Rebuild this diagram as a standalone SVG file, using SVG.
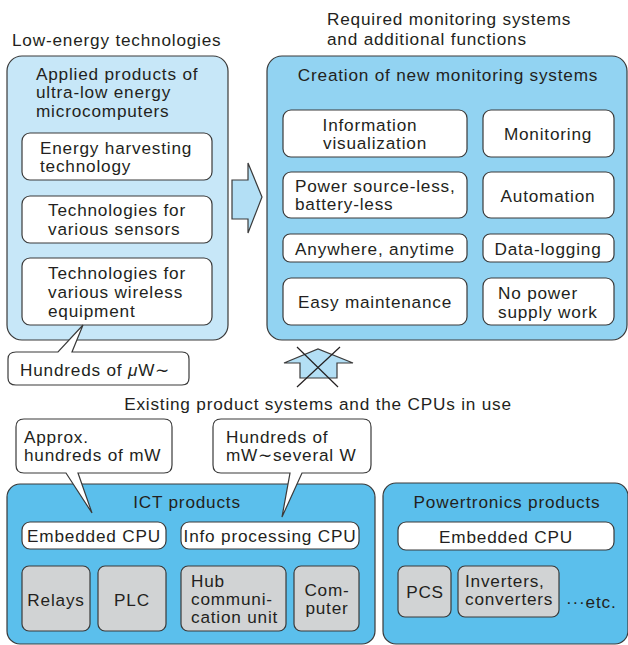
<svg xmlns="http://www.w3.org/2000/svg" width="628" height="645" viewBox="0 0 628 645">
  <style>
    text { font-family: "Liberation Sans", Arial, sans-serif; font-size: 17.2px; letter-spacing: 0.8px; fill: #231f20; }
    .c { text-anchor: middle; }
    .panel { stroke: #3a3a3a; stroke-width: 1.2; }
    .box { fill: #ffffff; stroke: #3a3a3a; stroke-width: 1.2; }
    .gray { fill: #d1d3d4; stroke: #3a3a3a; stroke-width: 1.2; }
    .arrow { fill: #b3dff5; stroke: #3a3a3a; stroke-width: 1.2; stroke-linejoin: miter; }
    .cross { stroke: #231f20; stroke-width: 1.2; fill: none; }
  </style>

  <!-- headings -->
  <g id="headings">
    <text x="12" y="46">Low-energy technologies</text>
    <text x="327" y="25">Required monitoring systems</text>
    <text x="327" y="45">and additional functions</text>
    <text class="c" x="318" y="410">Existing product systems and the CPUs in use</text>
  </g>

  <!-- low-energy microcomputer panel -->
  <g id="low-energy-panel">
    <rect class="panel" x="7" y="56" width="221" height="284" rx="15" fill="#c7e7f8"/>
    <text x="36" y="80">Applied products of</text>
    <text x="36" y="98">ultra-low energy</text>
    <text x="36" y="117">microcomputers</text>
  </g>
  <g id="energy-harvesting">
    <rect class="box" x="22" y="133" width="190" height="47" rx="8"/>
    <text x="40" y="154">Energy harvesting</text>
    <text x="40" y="172">technology</text>
  </g>
  <g id="sensors">
    <rect class="box" x="22" y="196" width="190" height="47" rx="8"/>
    <text x="48" y="216">Technologies for</text>
    <text x="48" y="235">various sensors</text>
  </g>
  <g id="wireless">
    <rect class="box" x="22" y="258" width="190" height="67" rx="8"/>
    <text x="48" y="279">Technologies for</text>
    <text x="48" y="298">various wireless</text>
    <text x="48" y="317">equipment</text>
  </g>
  <g id="callout-uw">
    <path class="box" d="M16,352 H58 L83,325 L72,352 H182 Q189,352 189,359 V378 Q189,385 182,385 H16 Q8,385 8,378 V359 Q8,352 16,352 Z"/>
    <text x="20" y="376">Hundreds of <tspan font-style="italic">μ</tspan>W∼</text>
  </g>

  <!-- new monitoring systems panel -->
  <g id="monitoring-panel">
    <rect class="panel" x="267" y="56" width="360" height="284" rx="15" fill="#92d3f2"/>
    <text class="c" x="448" y="81">Creation of new monitoring systems</text>
  </g>
  <g id="info-visualization">
    <rect class="box" x="283" y="110" width="184" height="47" rx="8"/>
    <text class="c" x="370" y="131">Information</text>
    <text class="c" x="375" y="149">visualization</text>
  </g>
  <g id="monitoring">
    <rect class="box" x="483" y="110" width="131" height="47" rx="8"/>
    <text class="c" x="548" y="140">Monitoring</text>
  </g>
  <g id="power-source-less">
    <rect class="box" x="283" y="172" width="184" height="46" rx="8"/>
    <text x="295" y="192">Power source-less,</text>
    <text x="295" y="210">battery-less</text>
  </g>
  <g id="automation">
    <rect class="box" x="483" y="172" width="131" height="46" rx="8"/>
    <text class="c" x="548" y="202">Automation</text>
  </g>
  <g id="anywhere">
    <rect class="box" x="283" y="234" width="184" height="28" rx="7"/>
    <text class="c" x="375" y="255">Anywhere, anytime</text>
  </g>
  <g id="data-logging">
    <rect class="box" x="483" y="234" width="131" height="28" rx="7"/>
    <text class="c" x="548" y="255">Data-logging</text>
  </g>
  <g id="easy-maintenance">
    <rect class="box" x="283" y="278" width="184" height="47" rx="8"/>
    <text class="c" x="375" y="308">Easy maintenance</text>
  </g>
  <g id="no-power-supply">
    <rect class="box" x="483" y="278" width="131" height="47" rx="8"/>
    <text x="498" y="299">No power</text>
    <text x="498" y="318">supply work</text>
  </g>

  <!-- connectors -->
  <g id="connectors">
    <path class="arrow" d="M232,180 H248 V163 L262,197 L248,233 V219 H232 Z"/>
    <path class="arrow" d="M300,378 V363 H284 L318,349 L353,363 H337 V378 Z"/>
    <line class="cross" x1="297" y1="347" x2="338" y2="387"/>
    <line class="cross" x1="340" y1="347" x2="297" y2="387"/>
  </g>

  <!-- ICT products -->
  <g id="ict-panel">
    <rect class="panel" x="7" y="484" width="368" height="160" rx="13" fill="#5bbfec"/>
    <text class="c" x="187" y="508">ICT products</text>
  </g>
  <g id="callout-mw">
    <path class="box" d="M24,419 H164 Q172,419 172,427 V465 Q172,473 164,473 H78 L92,513 L66,473 H24 Q16,473 16,465 V427 Q16,419 24,419 Z"/>
    <text x="24" y="443">Approx.</text>
    <text x="24" y="461">hundreds of mW</text>
  </g>
  <g id="callout-w">
    <path class="box" d="M221,419 H363 Q371,419 371,427 V465 Q371,473 363,473 H302 L282,517 L290,473 H221 Q213,473 213,465 V427 Q213,419 221,419 Z"/>
    <text x="226" y="443">Hundreds of</text>
    <text x="226" y="461">mW∼several W</text>
  </g>
  <g id="ict-embedded-cpu">
    <rect class="box" x="22" y="522" width="144" height="27" rx="8"/>
    <text class="c" x="94" y="542">Embedded CPU</text>
  </g>
  <g id="info-processing-cpu">
    <rect class="box" x="181" y="522" width="178" height="27" rx="8"/>
    <text class="c" x="270" y="542">Info processing CPU</text>
  </g>
  <g id="relays">
    <rect class="gray" x="22" y="566" width="68" height="65" rx="7"/>
    <text class="c" x="56" y="606">Relays</text>
  </g>
  <g id="plc">
    <rect class="gray" x="98" y="566" width="68" height="65" rx="7"/>
    <text class="c" x="132" y="606">PLC</text>
  </g>
  <g id="hub">
    <rect class="gray" x="181" y="566" width="105" height="65" rx="7"/>
    <text x="191" y="587">Hub</text>
    <text x="191" y="605">communi-</text>
    <text x="191" y="623">cation unit</text>
  </g>
  <g id="computer">
    <rect class="gray" x="294" y="566" width="65" height="65" rx="7"/>
    <text class="c" x="327" y="596">Com-</text>
    <text class="c" x="327" y="614">puter</text>
  </g>

  <!-- Powertronics products -->
  <g id="powertronics-panel">
    <rect class="panel" x="383" y="483" width="245" height="161" rx="13" fill="#5bbfec"/>
    <text class="c" x="507" y="508">Powertronics products</text>
  </g>
  <g id="pt-embedded-cpu">
    <rect class="box" x="398" y="522" width="216" height="28" rx="8"/>
    <text class="c" x="506" y="543">Embedded CPU</text>
  </g>
  <g id="pcs">
    <rect class="gray" x="398" y="566" width="53" height="51" rx="7"/>
    <text class="c" x="425" y="598">PCS</text>
  </g>
  <g id="inverters">
    <rect class="gray" x="458" y="566" width="101" height="51" rx="7"/>
    <text x="465" y="587">Inverters,</text>
    <text x="465" y="605">converters</text>
  </g>
  <g id="etc">
    <text x="566" y="608">···etc.</text>
  </g>
</svg>
